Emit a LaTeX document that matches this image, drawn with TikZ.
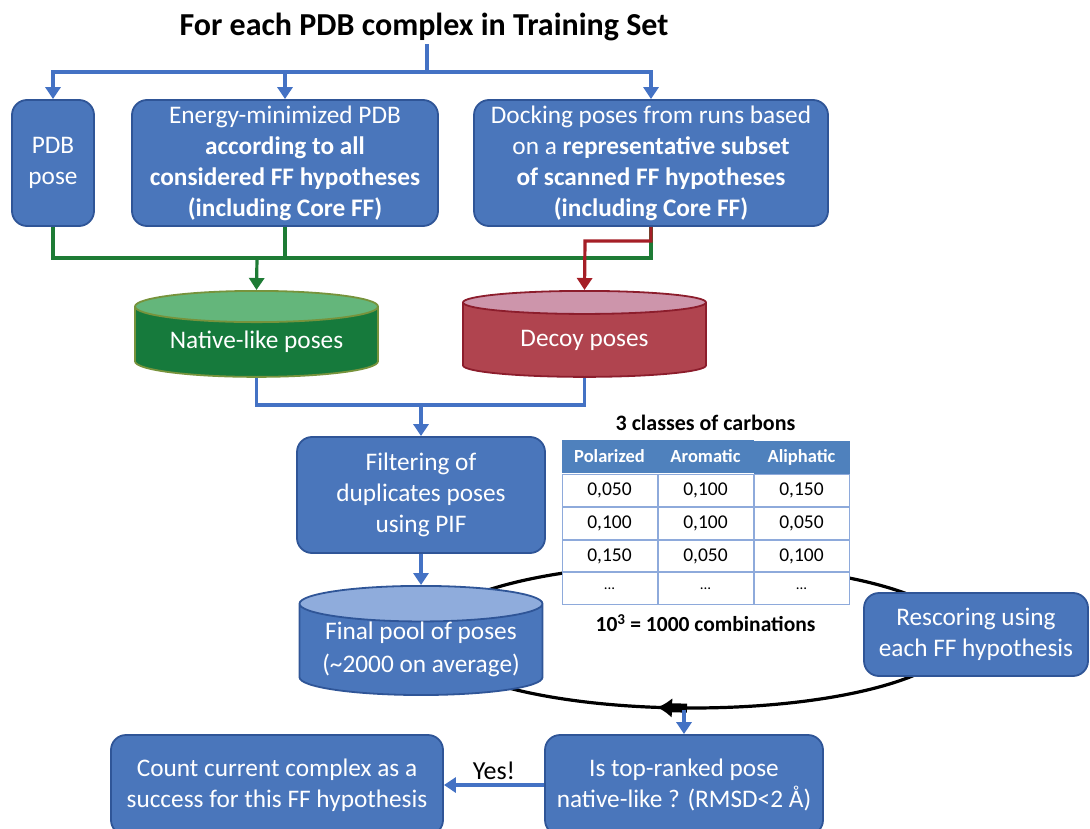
\documentclass[tikz,border=0pt]{standalone}
\usepackage{fontspec}
\setmainfont{Carlito}
\usetikzlibrary{shapes.geometric,positioning,arrows.meta,matrix,decorations.markings}

\definecolor{boxblue}{HTML}{4A76BB}
\definecolor{boxedge}{HTML}{2F5597}
\definecolor{lineblue}{HTML}{4472C4}
\definecolor{linegreen}{HTML}{1E7B35}
\definecolor{linered}{HTML}{A51E26}
\definecolor{natbody}{HTML}{167A3C}
\definecolor{nattop}{HTML}{64B67B}
\definecolor{natedge}{HTML}{77933C}
\definecolor{decbody}{HTML}{B0444F}
\definecolor{dectop}{HTML}{CD95AB}
\definecolor{decedge}{HTML}{8C1D2C}
\definecolor{pooltop}{HTML}{8FACDC}
\definecolor{headblue}{HTML}{4F81BD}
\definecolor{tabline}{HTML}{8EAADB}

\tikzset{
  box/.style={draw=boxedge, line width=1.8pt, fill=boxblue, rounded corners=15pt,
    text=white, align=center, inner sep=0pt, font=\fontsize{25.3}{31}\selectfont},
  pot/.style={cylinder, shape border rotate=90, aspect=0.18, cylinder uses custom fill,
    line width=1.8pt, inner sep=0pt, text=white, align=center, anchor=north,
    minimum width=243pt, minimum height=86pt, font=\fontsize{25.3}{33}\selectfont},
  blueline/.style={draw=lineblue, line width=3.2pt},
  bluearrow/.style={blueline, -{Triangle[width=15pt,length=12pt]}},
  greenline/.style={draw=linegreen, line width=3.2pt},
  redline/.style={draw=linered, line width=3.2pt},
  cell/.style={draw=tabline, line width=1pt, fill=white, minimum width=95pt,
    minimum height=31.8pt, inner sep=0pt, outer sep=0pt, text=black,
    font=\fontsize{19.5}{21}\selectfont},
  head/.style={fill=headblue, draw=headblue, text=white, font=\bfseries\fontsize{18.5}{20}\selectfont}
}

\begin{document}
\begin{tikzpicture}[x=1pt,y=-1pt]
\useasboundingbox (0,0) rectangle (1090,829);

%%%%%%%%%%%%%%%%%%%% loop (behind everything)
\node[ellipse, draw, line width=3.2pt, minimum width=530pt, minimum height=144pt, inner sep=0pt,
  postaction={decorate, decoration={markings,
    mark=at position 0.7308 with {\fill (0pt,-4.5pt) rectangle (17pt,4.5pt);},
    mark=at position 0.7195 with {\arrowreversed{Latex[length=15pt,width=20pt]}}}}]
  (loop) at (692,636) {};

%%%%%%%%%%%%%%%%%%%% top row
\node[font=\bfseries\fontsize{32}{36}\selectfont] (title) at (424,27) {For each PDB complex in Training Set};

\node[box, minimum width=82pt, minimum height=126pt] (pdb) at (53,163) {PDB\\pose};
\node[box, minimum width=306pt, minimum height=126pt] (emin) at (285,163)
  {Energy-minimized PDB\\\textbf{according to all}\\\textbf{considered FF hypotheses}\\\textbf{(including Core FF)}};
\node[box, minimum width=354pt, minimum height=126pt] (dock) at (651,163)
  {Docking poses from runs based\\on a \textbf{representative subset}\\\textbf{of scanned FF hypotheses}\\\textbf{(including Core FF)}};

\coordinate (split) at (427,72);
\draw[blueline] (split |- title.south) -- (split);
\draw[bluearrow] (split) -| (pdb.north);
\draw[bluearrow] (split) -| (emin.north);
\draw[bluearrow] (split) -| (dock.north);

%%%%%%%%%%%%%%%%%%%% pose pools
\node[pot, draw=natedge, cylinder body fill=natbody, cylinder end fill=nattop] (native) at (256.5,290) {Native-like poses};
\node[pot, draw=decedge, cylinder body fill=decbody, cylinder end fill=dectop] (decoy) at (584.5,290) {Decoy poses};

\coordinate (gbar) at (257,258);
\coordinate (rbar) at (585,241);
\draw[greenline] (pdb.south) |- (gbar);
\draw[greenline] (emin.south) -- (emin.south |- gbar);
\draw[greenline] (dock.south) |- (gbar);
\draw[greenline, -{Triangle[width=15pt,length=12pt]}] (gbar) -- (native.north);
\draw[redline, -{Triangle[width=15pt,length=12pt]}] (dock.south) |- (rbar) -- (decoy.north);

%%%%%%%%%%%%%%%%%%%% filtering
\node[box, minimum width=248pt, minimum height=116pt] (filter) at (421,495)
  {Filtering of\\duplicates poses\\using PIF};
\node[pot, draw=boxedge, cylinder body fill=boxblue, cylinder end fill=pooltop, minimum height=98pt] (pool) at (421,585)
  {Final pool of poses\\(\textasciitilde2000 on average)};

\coordinate (bbar) at (421,405);
\draw[blueline] (native.south) |- (bbar);
\draw[blueline] (decoy.south) |- (bbar);
\draw[bluearrow] (bbar) -- (filter.north);
\draw[bluearrow] (filter.south) -- (pool.north);

%%%%%%%%%%%%%%%%%%%% table of carbons
\matrix (tab) [matrix of nodes, nodes={cell}, row sep=0pt, column sep=0pt,
  row 1/.style={nodes={head}}] at (705.5,522.5) {
  Polarized & Aromatic & Aliphatic \\
  0,050 & 0,100 & 0,150 \\
  0,100 & 0,100 & 0,050 \\
  0,150 & 0,050 & 0,100 \\
  |[font=\fontsize{15}{16}\selectfont]| ... & |[font=\fontsize{15}{16}\selectfont]| ... & |[font=\fontsize{15}{16}\selectfont]| ... \\
};
\node[above=2pt of tab, font=\bfseries\fontsize{22}{24}\selectfont] (tabtitle) {3 classes of carbons};
\node[below=2pt of tab, font=\bfseries\fontsize{21.5}{23}\selectfont] (combi) {10\textsuperscript{3} = 1000 combinations};

%%%%%%%%%%%%%%%%%%%% rescoring and decision
\node[box, minimum width=224pt, minimum height=83pt] (rescore) at (976,634.5) {Rescoring using\\each FF hypothesis};

\node[box, minimum width=278pt, minimum height=100pt] (istop) at (684,785)
  {Is top-ranked pose\\native-like ? (RMSD<2 Å)};
\node[box, minimum width=332pt, minimum height=100pt] (count) at (277,785)
  {Count current complex as a\\success for this FF hypothesis};

\draw[bluearrow] (istop.north |- loop.south) -- (istop.north);
\draw[bluearrow] (istop.west) -- node[above, text=black, font=\fontsize{26}{28}\selectfont] (yes) {Yes!} (count.east);
\end{tikzpicture}
\end{document}
